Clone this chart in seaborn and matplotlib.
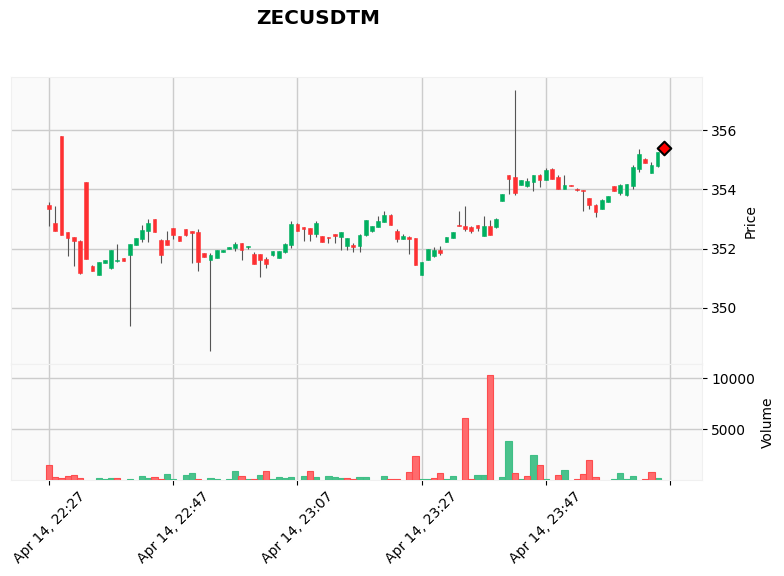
import matplotlib
matplotlib.use('Agg')
import matplotlib.pyplot as plt
import numpy as np
import pandas as pd
import seaborn as sns

opens = [353.47, 352.87, 355.81, 352.56, 352.39, 352.26, 354.25, 351.41, 351.11, 351.51,
         351.34, 351.58, 351.68, 351.78, 352.12, 352.32, 352.60, 353.00, 352.29, 352.29,
         352.70, 352.43, 352.66, 352.60, 352.56, 351.85, 351.61, 351.68, 351.89, 351.99,
         352.02, 352.19, 352.05, 351.81, 351.81, 351.64, 351.78, 351.68, 351.88, 352.12,
         352.83, 352.73, 352.69, 352.49, 352.42, 352.39, 352.49, 352.39, 352.08, 352.12,
         352.08, 352.46, 352.59, 352.73, 352.90, 353.13, 352.59, 352.32, 352.39, 352.35,
         351.10, 351.61, 351.75, 351.95, 352.22, 352.35, 352.79, 352.76, 352.73, 352.79,
         352.42, 352.76, 352.73, 353.61, 354.48, 354.42, 354.15, 354.11, 354.25, 354.48,
         354.32, 354.69, 354.42, 354.01, 354.15, 354.01, 353.98, 353.71, 353.47, 353.33,
         353.57, 354.11, 353.88, 353.81, 354.11, 354.69, 355.03, 354.55, 354.79, 355.45]
highs = [353.56, 353.43, 355.81, 352.56, 352.39, 352.29, 354.25, 351.45, 351.55, 351.61,
         351.95, 352.16, 351.68, 352.16, 352.36, 352.80, 352.99, 353.00, 352.32, 352.60,
         352.70, 352.43, 352.66, 352.60, 352.66, 351.85, 351.85, 351.95, 351.95, 352.05,
         352.22, 352.19, 352.09, 351.88, 351.81, 351.71, 351.91, 351.91, 352.18, 352.92,
         352.85, 352.73, 352.69, 352.93, 352.42, 352.39, 352.49, 352.56, 352.35, 352.18,
         352.49, 352.96, 352.76, 353.10, 353.27, 353.17, 352.66, 352.49, 352.42, 352.35,
         351.54, 351.98, 352.05, 352.08, 352.39, 352.56, 353.27, 353.43, 352.76, 352.79,
         353.10, 352.96, 353.03, 353.84, 354.48, 357.35, 354.32, 354.37, 354.48, 354.52,
         354.72, 354.72, 354.48, 354.48, 354.15, 354.05, 353.98, 353.71, 353.50, 353.67,
         353.77, 354.11, 354.18, 354.18, 354.82, 355.36, 355.06, 354.92, 355.26, 355.45]
lows = [352.78, 352.60, 352.46, 351.76, 351.42, 351.14, 351.65, 351.24, 351.11, 351.51,
        351.31, 351.55, 351.58, 349.37, 352.12, 352.23, 352.23, 352.56, 351.52, 352.12,
        352.34, 352.26, 352.43, 351.52, 351.25, 351.72, 348.53, 351.68, 351.89, 351.99,
        351.92, 351.63, 351.99, 351.47, 351.05, 351.35, 351.75, 351.68, 351.85, 352.02,
        352.59, 352.25, 352.26, 352.40, 352.22, 352.18, 352.20, 351.95, 351.96, 351.89,
        351.89, 352.42, 352.56, 352.73, 352.90, 352.79, 352.22, 352.32, 351.81, 351.44,
        351.10, 351.61, 351.71, 351.78, 352.22, 352.35, 352.76, 352.60, 352.53, 352.60,
        352.42, 352.46, 352.69, 353.61, 353.84, 353.81, 354.15, 354.08, 353.94, 354.09,
        354.32, 354.35, 354.01, 354.01, 354.11, 353.94, 353.28, 353.33, 353.08, 353.33,
        353.57, 353.94, 353.81, 353.79, 354.01, 354.59, 354.89, 354.55, 354.76, 355.33]
closes = [353.34, 352.60, 352.46, 352.36, 352.26, 351.17, 351.65, 351.24, 351.55, 351.61,
          351.95, 351.61, 351.58, 352.16, 352.36, 352.63, 352.87, 352.56, 351.78, 352.12,
          352.46, 352.26, 352.46, 352.53, 351.55, 351.72, 351.78, 351.95, 351.95, 352.05,
          352.16, 351.95, 352.09, 351.47, 351.61, 351.47, 351.91, 351.91, 352.15, 352.83,
          352.59, 352.66, 352.49, 352.86, 352.22, 352.35, 352.42, 352.56, 352.35, 352.05,
          352.46, 352.96, 352.76, 352.93, 353.13, 352.79, 352.32, 352.42, 352.32, 351.44,
          351.54, 351.98, 351.95, 351.85, 352.39, 352.56, 352.76, 352.66, 352.59, 352.69,
          352.76, 352.46, 353.00, 353.84, 354.35, 353.88, 354.32, 354.30, 354.48, 354.32,
          354.65, 354.35, 354.01, 354.15, 354.11, 353.98, 353.94, 353.47, 353.23, 353.64,
          353.77, 353.94, 354.15, 354.18, 354.76, 355.20, 354.89, 354.82, 355.26, 355.39]
volumes = [1485, 330, 230, 430, 530, 230, 0, 0, 230, 130,
           230, 230, 0, 130, 0, 430, 230, 330, 130, 630,
           130, 0, 530, 730, 130, 0, 230, 130, 0, 130,
           930, 430, 130, 130, 530, 930, 130, 330, 230, 330,
           0, 430, 930, 330, 0, 430, 330, 230, 230, 130,
           330, 330, 0, 0, 430, 130, 130, 0, 830, 2400,
           130, 130, 230, 730, 130, 430, 0, 6070, 130, 530,
           530, 10330, 0, 330, 3890, 730, 130, 430, 2500, 1520,
           130, 0, 530, 1020, 0, 130, 630, 2010, 330, 0,
           0, 130, 730, 130, 430, 0, 130, 830, 230, 0]
tick_pos = [0, 20, 40, 60, 80, 100]
tick_labels = ['Apr 14, 22:27', 'Apr 14, 22:47', 'Apr 14, 23:07',
               'Apr 14, 23:27', 'Apr 14, 23:47', '']

up_color = '#00b060'
down_color = '#fe3032'

sns.set_theme(style='whitegrid', rc={
    'axes.facecolor': '#fafafa',
    'grid.color': '#cccccc',
    'grid.linewidth': 1.0,
    'axes.edgecolor': '#f0f0f0',
    'axes.linewidth': 0.8,
    'font.family': 'DejaVu Sans',
    'text.color': 'black',
    'axes.labelcolor': 'black',
    'xtick.color': 'black',
    'ytick.color': 'black',
})

df = pd.DataFrame({'i': np.arange(len(opens)), 'open': opens, 'high': highs,
                   'low': lows, 'close': closes, 'volume': volumes})
df['up'] = df['close'] >= df['open']
# volume colour goes by the previous close, not by the candle body
df['vol_up'] = df['close'] >= df['close'].shift(1)

fig = plt.figure(figsize=(7.84, 5.76), dpi=100)
W, H = 784, 576
ax = fig.add_axes([11.3 / W, 1 - 364.3 / H, 690.4 / W, 287 / H])
ax_vol = fig.add_axes([11.3 / W, 1 - 479.7 / H, 690.4 / W, 115.4 / H], sharex=ax)

# candles
ax.vlines(df['i'], df['low'], df['high'], color='#555555', linewidth=0.8, zorder=2)
colors = [up_color if u else down_color for u in df['up']]
ax.bar(df['i'], (df['close'] - df['open']).abs(), bottom=df[['open', 'close']].min(axis=1),
       width=0.6, color=colors, edgecolor=colors, linewidth=0.4, zorder=3)

last = df.iloc[[-1]]
sns.scatterplot(data=last, x='i', y='close', marker='D', s=48, color='red',
                edgecolor='black', linewidth=1.5, zorder=5, ax=ax, legend=False)

# volume
vol = df[df['volume'] > 0]
sns.barplot(data=vol[vol['vol_up']], x='i', y='volume', native_scale=True, width=1.0,
            color='#4ac28c', saturation=1, edgecolor='#3fbf86', linewidth=0.8, ax=ax_vol, zorder=3)
sns.barplot(data=vol[~vol['vol_up']], x='i', y='volume', native_scale=True, width=1.0,
            color='#ff6b6d', saturation=1, edgecolor='#fe4c4e', linewidth=0.8, ax=ax_vol, zorder=3)

ax.set_xlim(-6.07, 105.1)
ax.set_ylim(348.09, 357.79)
ax_vol.set_ylim(60, 11363)

ax.set_yticks([350, 352, 354, 356])
ax_vol.set_yticks([5000, 10000])
for a in (ax, ax_vol):
    a.yaxis.tick_right()
    a.yaxis.set_label_position('right')
    a.grid(True, zorder=0)
    a.set_axisbelow(True)
    a.tick_params(axis='y', right=True, length=3.5, width=0.8, labelsize=10, pad=3.5)
ax.set_xlabel('')
ax.set_ylabel('Price', fontsize=10, labelpad=4)
ax_vol.set_ylabel('Volume', fontsize=10, labelpad=4)
ax_vol.set_xlabel('')

ax.set_xticks(tick_pos)
ax.tick_params(axis='x', length=0, labelbottom=False)
ax_vol.set_xticks(tick_pos)
ax_vol.set_xticklabels(tick_labels, rotation=45, ha='center', fontsize=10)
ax_vol.tick_params(axis='x', length=3.5, width=0.8, color='black', pad=3.5, bottom=True)

fig.suptitle('ZECUSDTM', x=318 / W, y=1 - 19 / H, va='center', fontsize=14.4, fontweight='bold')
fig.savefig('out.png', dpi=100)
